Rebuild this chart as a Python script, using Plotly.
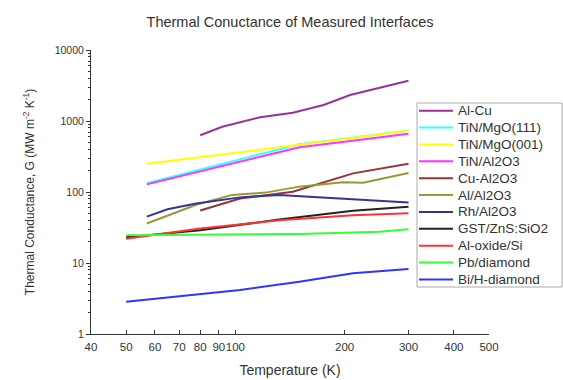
import plotly.graph_objects as go

# ---- data ----
alcu_T = [80, 92, 117, 144, 175, 207, 300]
alcu_G = [630, 830, 1130, 1310, 1680, 2320, 3700]

tinmgo111_T = [57, 100, 150, 200, 300]
tinmgo111_G = [133, 275, 470, 562, 730]

tinmgo001_T = [57, 100, 150, 200, 300]
tinmgo001_G = [250, 354, 460, 556, 730]

tinal2o3_T = [57, 100, 150, 200, 300]
tinal2o3_G = [128, 257, 427, 511, 660]

cual2o3_T = [80, 103, 144, 178, 211, 300]
cual2o3_G = [55, 81, 101, 140, 183, 250]

alal2o3_T = [57, 78, 98, 121, 150, 198, 225, 300]
alal2o3_G = [36, 66, 91, 98, 119, 137, 135, 185]

rhal2o3_T = [57, 65, 78, 103, 132, 300]
rhal2o3_G = [45, 57, 69, 84, 91, 71]

gst_T = [50, 80, 132, 211, 300]
gst_G = [23, 29, 41, 54.5, 62]

aloxsi_T = [50, 80, 132, 211, 300]
aloxsi_G = [22, 30.5, 40, 47, 50]

pbdia_T = [50, 150, 250, 300]
pbdia_G = [24.5, 25.6, 27.6, 29.8]

bidia_T = [50, 80, 103, 150, 211, 300]
bidia_G = [2.85, 3.66, 4.17, 5.45, 7.16, 8.2]

x_ticks = [40, 50, 60, 70, 80, 90, 100, 200, 300, 400, 500]
y_ticks = [1, 10, 100, 1000, 10000]
y_minor = [m * 10 ** d for d in range(4) for m in range(2, 10)]

series = [
    ("Al-Cu", alcu_T, alcu_G, "#993399"),
    ("TiN/MgO(111)", tinmgo111_T, tinmgo111_G, "#33ffff"),
    ("TiN/MgO(001)", tinmgo001_T, tinmgo001_G, "#ffff00"),
    ("TiN/Al2O3", tinal2o3_T, tinal2o3_G, "#ff33ff"),
    ("Cu-Al2O3", cual2o3_T, cual2o3_G, "#993333"),
    ("Al/Al2O3", alal2o3_T, alal2o3_G, "#999933"),
    ("Rh/Al2O3", rhal2o3_T, rhal2o3_G, "#333399"),
    ("GST/ZnS:SiO2", gst_T, gst_G, "#222222"),
    ("Al-oxide/Si", aloxsi_T, aloxsi_G, "#ff3333"),
    ("Pb/diamond", pbdia_T, pbdia_G, "#33ff33"),
    ("Bi/H-diamond", bidia_T, bidia_G, "#3333ff"),
]

FONT = "Liberation Sans, Arial, sans-serif"

# plot-area geometry in pixels (layout only)
W, H = 563, 380
L, R, T_, B = 91, 74, 50, 46
PW, PH = W - L - R, H - T_ - B


def px_x(p):
    return (p - L) / PW


def px_y(p):
    return (H - B - p) / PH


fig = go.Figure()
for name, T, G, col in series:
    fig.add_trace(go.Scatter(x=T, y=G, mode="lines", name=name,
                             line=dict(color=col, width=2), showlegend=False))

# hand-built legend box (to match the compact row spacing of the reference)
shapes = [dict(type="rect", xref="paper", yref="paper",
               x0=px_x(417), x1=px_x(562), y0=px_y(287), y1=px_y(103),
               line=dict(color="#aaaaaa", width=1), fillcolor="white", layer="above")]
annotations = []
row0, step = 110.7, 16.87
for i, (name, _, _, col) in enumerate(series):
    yc = row0 + i * step
    shapes.append(dict(type="line", xref="paper", yref="paper",
                       x0=px_x(419), x1=px_x(453), y0=px_y(yc), y1=px_y(yc),
                       line=dict(color=col, width=2), layer="above"))
    annotations.append(dict(text=name, xref="paper", yref="paper",
                            x=px_x(456), y=px_y(yc), xanchor="left", yanchor="middle",
                            showarrow=False,
                            font=dict(size=13.5, family=FONT, color="#333333")))

fig.update_layout(
    width=W, height=H,
    margin=dict(l=L, r=R, t=T_, b=B),
    paper_bgcolor="white", plot_bgcolor="white",
    font=dict(family=FONT, color="#333333", size=11),
    title=dict(text="Thermal Conuctance of Measured Interfaces",
               x=0.5, xref="paper", xanchor="center",
               y=1 - 22 / 380, yref="container", yanchor="middle",
               font=dict(size=14.5, family=FONT, color="#333333")),
    showlegend=False,
    shapes=shapes,
    annotations=annotations,
)

fig.update_xaxes(
    type="log", range=[1.60206, 2.69897], automargin=False,
    tickvals=x_ticks, ticktext=[str(v) for v in x_ticks], tickangle=0,
    ticks="inside", ticklen=4, tickcolor="#333333",
    ticklabelstandoff=2,
    showline=True, linecolor="#333333", linewidth=1,
    showgrid=False, zeroline=False,
    tickfont=dict(size=11.5),
    title=dict(text="Temperature (K)", font=dict(size=14), standoff=13),
)
fig.update_yaxes(
    type="log", range=[0, 4], automargin=False,
    tickvals=y_ticks, ticktext=[str(v) for v in y_ticks],
    ticks="outside", ticklen=4, tickcolor="#333333",
    minor=dict(tickvals=y_minor, ticks="outside", ticklen=2, tickcolor="#333333"),
    showline=True, linecolor="#333333", linewidth=1,
    showgrid=False, zeroline=False,
    tickfont=dict(size=10.5),
    title=dict(text="Thermal Conductance, G (MW m<sup>-2</sup> K<sup>-1</sup>)",
               font=dict(size=12), standoff=17),
)

fig.write_html("out.html")
